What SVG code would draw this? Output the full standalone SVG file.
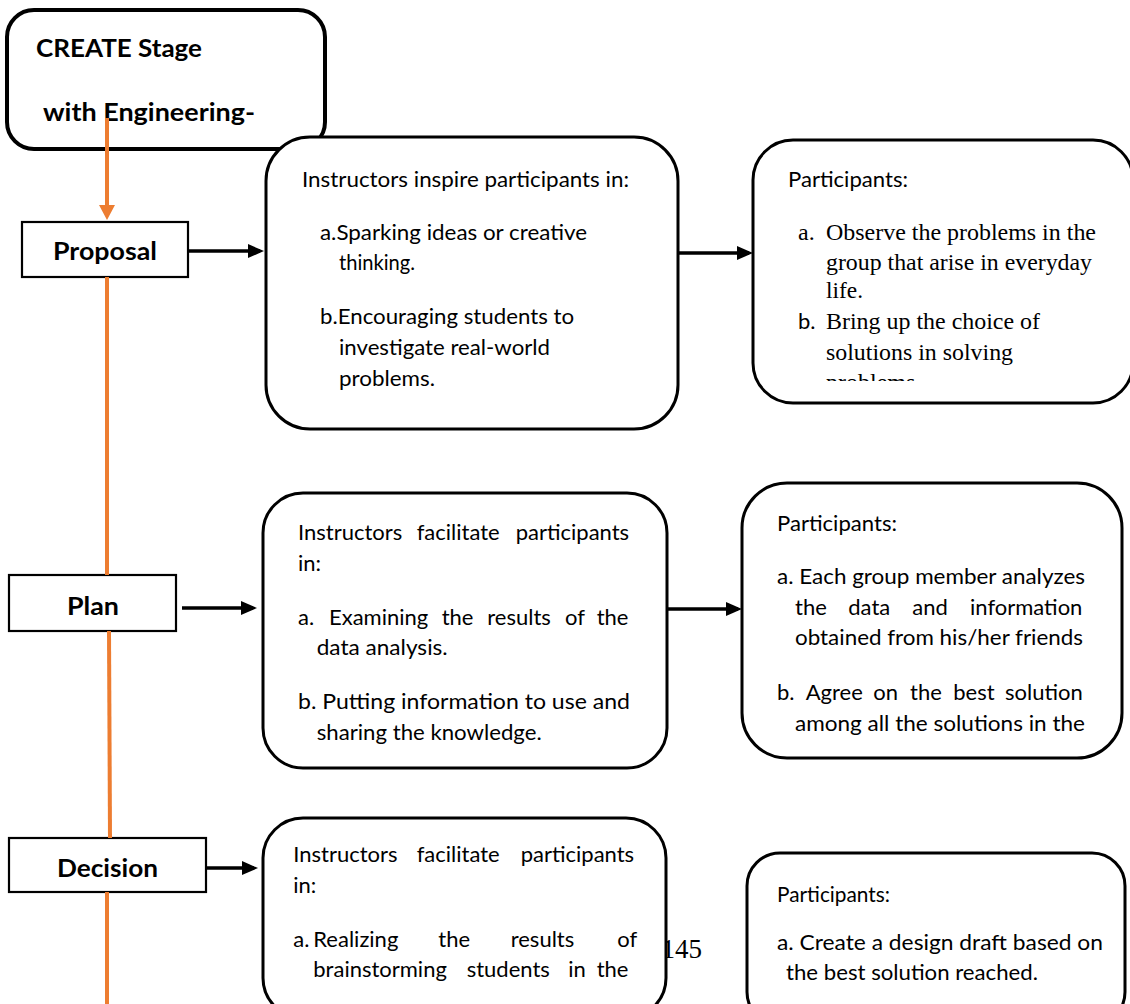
<svg xmlns="http://www.w3.org/2000/svg" width="1130" height="1004" viewBox="0 0 1130 1004">
<style>
.box{fill:#fff;stroke:#000;stroke-width:3}
.create{fill:#fff;stroke:#000;stroke-width:4}
.stage{fill:#fff;stroke:#000;stroke-width:2.2}
.t{font-family:Lato,'Open Sans','Liberation Sans',sans-serif;font-size:22px;fill:#000}
.lbl{font-family:Lato,'Open Sans','Liberation Sans',sans-serif;font-size:25px;font-weight:700;fill:#000}
.tm{font-family:'Liberation Serif','Times New Roman',serif;font-size:24px;fill:#000}
.pg{font-family:'Liberation Serif','Times New Roman',serif;font-size:27px;fill:#000}
.conn{stroke:#000;stroke-width:3.5;fill:none}
.or{stroke:#ED7D31;stroke-width:4;fill:none}
</style>
<defs>
<marker id="ah" markerUnits="userSpaceOnUse" markerWidth="16" markerHeight="16" viewBox="0 0 16 16" refX="12" refY="8" orient="auto"><path d="M0,1 L16,8 L0,15 z" fill="#000"/></marker>
<marker id="aho" markerUnits="userSpaceOnUse" markerWidth="15" markerHeight="16" viewBox="0 0 15 16" refX="11" refY="8" orient="auto"><path d="M0,0 L15,8 L0,16 z" fill="#ED7D31"/></marker>
<clipPath id="clipP"><rect x="760" y="140" width="370" height="241"/></clipPath>
</defs>

<text class="pg" x="702" y="958" text-anchor="end">145</text>

<g id="create">
<rect class="create" x="7" y="10" width="318" height="139" rx="27"/>
<text class="lbl" x="36" y="57" textLength="166" lengthAdjust="spacingAndGlyphs">CREATE Stage</text>
<text class="lbl" x="43" y="121" textLength="212" lengthAdjust="spacingAndGlyphs">with Engineering-</text>
</g>

<g id="proposal">
<rect class="stage" x="22" y="222" width="166" height="55"/>
<text class="lbl" x="53" y="260" textLength="104" lengthAdjust="spacingAndGlyphs">Proposal</text>
</g>

<g id="instr1">
<rect class="box" x="266" y="137" width="412" height="292" rx="44"/>
<text class="t" x="302" y="187" textLength="327" lengthAdjust="spacingAndGlyphs">Instructors inspire participants in:</text>
<text class="t" x="320" y="240" textLength="267" lengthAdjust="spacingAndGlyphs">a.Sparking ideas or creative</text>
<text class="t" x="339" y="270" textLength="76" lengthAdjust="spacingAndGlyphs">thinking.</text>
<text class="t" x="320" y="324" textLength="254" lengthAdjust="spacingAndGlyphs">b.Encouraging students to</text>
<text class="t" x="339" y="355" textLength="211" lengthAdjust="spacingAndGlyphs">investigate real-world</text>
<text class="t" x="339" y="386" textLength="96" lengthAdjust="spacingAndGlyphs">problems.</text>
</g>

<g id="part1">
<rect class="box" x="753" y="140" width="380" height="263" rx="40"/>
<text class="t" x="788" y="187" textLength="120" lengthAdjust="spacingAndGlyphs">Participants:</text>
<text class="tm" x="798" y="240">a.</text>
<text class="tm" x="826" y="240" textLength="270" lengthAdjust="spacingAndGlyphs">Observe the problems in the</text>
<text class="tm" x="826" y="270" textLength="266" lengthAdjust="spacingAndGlyphs">group that arise in everyday</text>
<text class="tm" x="826" y="298" textLength="37" lengthAdjust="spacingAndGlyphs">life.</text>
<text class="t" x="798" y="329">b.</text>
<text class="tm" x="826" y="329" textLength="214" lengthAdjust="spacingAndGlyphs">Bring up the choice of</text>
<text class="tm" x="826" y="360" textLength="187" lengthAdjust="spacingAndGlyphs">solutions in solving</text>
<text class="tm" x="826" y="390" clip-path="url(#clipP)">problems</text>
</g>

<g id="plan">
<rect class="stage" x="9" y="575" width="167" height="56"/>
<text class="lbl" x="67" y="615" textLength="52" lengthAdjust="spacingAndGlyphs">Plan</text>
</g>

<g id="instr2">
<rect class="box" x="263" y="493" width="404" height="275" rx="40"/>
<text class="t" y="540"><tspan x="298">Instructors</tspan><tspan x="416.7">facilitate</tspan><tspan x="515.7">participants</tspan></text>
<text class="t" x="298" y="571">in:</text>
<text class="t" y="625"><tspan x="298">a.</tspan><tspan x="329">Examining</tspan><tspan x="441.7">the</tspan><tspan x="487.3">results</tspan><tspan x="565">of</tspan><tspan x="596.7">the</tspan></text>
<text class="t" x="316.7" y="655" textLength="131" lengthAdjust="spacingAndGlyphs">data analysis.</text>
<text class="t" x="298" y="709" textLength="332" lengthAdjust="spacingAndGlyphs">b. Putting information to use and</text>
<text class="t" x="316.7" y="740" textLength="225" lengthAdjust="spacingAndGlyphs">sharing the knowledge.</text>
</g>

<g id="part2">
<rect class="box" x="742" y="483" width="380" height="275" rx="45"/>
<text class="t" x="777" y="531" textLength="120" lengthAdjust="spacingAndGlyphs">Participants:</text>
<text class="t" x="777" y="584" textLength="308" lengthAdjust="spacingAndGlyphs">a. Each group member analyzes</text>
<text class="t" y="615"><tspan x="795">the</tspan><tspan x="848.3">data</tspan><tspan x="912.3">and</tspan><tspan x="970">information</tspan></text>
<text class="t" x="795" y="645" textLength="288" lengthAdjust="spacingAndGlyphs">obtained from his/her friends</text>
<text class="t" y="700"><tspan x="777">b.</tspan><tspan x="805.7">Agree</tspan><tspan x="873.3">on</tspan><tspan x="910">the</tspan><tspan x="953.3">best</tspan><tspan x="1005">solution</tspan></text>
<text class="t" x="795" y="731" textLength="290" lengthAdjust="spacingAndGlyphs">among all the solutions in the</text>
</g>

<g id="decision">
<rect class="stage" x="9" y="838" width="197" height="54"/>
<text class="lbl" x="57" y="877" textLength="101" lengthAdjust="spacingAndGlyphs">Decision</text>
</g>

<g id="instr3">
<rect class="box" x="263" y="818" width="403" height="200" rx="40"/>
<text class="t" y="862"><tspan x="293.3">Instructors</tspan><tspan x="416.7">facilitate</tspan><tspan x="520.7">participants</tspan></text>
<text class="t" x="293.3" y="893">in:</text>
<text class="t" y="947"><tspan x="293.3">a.</tspan><tspan x="313.3">Realizing</tspan><tspan x="438.3">the</tspan><tspan x="510.7">results</tspan><tspan x="617.3">of</tspan></text>
<text class="t" y="977"><tspan x="313.3">brainstorming</tspan><tspan x="466.7">students</tspan><tspan x="568.3">in</tspan><tspan x="596.7">the</tspan></text>
</g>

<g id="part3">
<rect class="box" x="747" y="853" width="378" height="172" rx="33"/>
<text class="t" x="777" y="902" textLength="113" lengthAdjust="spacingAndGlyphs">Participants:</text>
<text class="t" x="777" y="950" textLength="326" lengthAdjust="spacingAndGlyphs">a. Create a design draft based on</text>
<text class="t" x="786" y="980" textLength="252" lengthAdjust="spacingAndGlyphs">the best solution reached.</text>
</g>

<g id="connectors">
<path class="or" d="M107,118 L107,216" marker-end="url(#aho)"/>
<path class="or" d="M107,277 L107,575"/>
<path class="or" d="M109,631 L110,838"/>
<path class="or" d="M107,892 L107,1004"/>
<path class="conn" d="M188,251 L260,251" marker-end="url(#ah)"/>
<path class="conn" d="M678,253 L749,253" marker-end="url(#ah)"/>
<path class="conn" d="M182,608 L253,608" marker-end="url(#ah)"/>
<path class="conn" d="M667,609 L738,609" marker-end="url(#ah)"/>
<path class="conn" d="M206,868 L254,868" marker-end="url(#ah)"/>
</g>
</svg>
